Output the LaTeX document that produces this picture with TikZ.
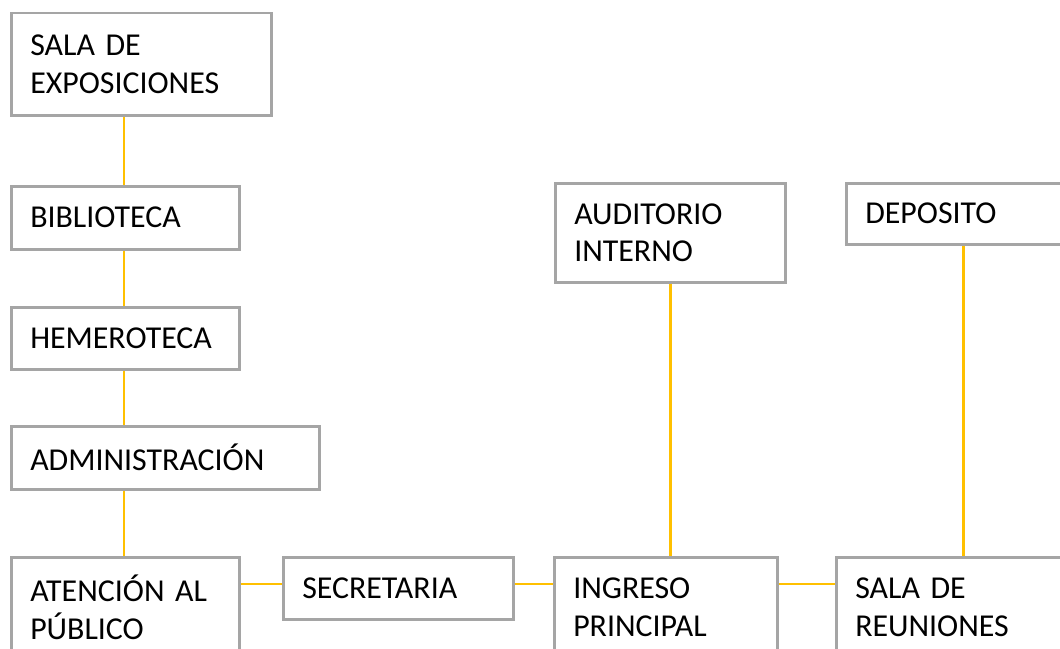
\documentclass[tikz,border=0pt]{standalone}
\usepackage{fontspec}
\setmainfont{Carlito}
\definecolor{boxgray}{HTML}{A5A5A5}
\definecolor{linkorange}{HTML}{FFC000}
\newcommand{\myboxfont}{\fontsize{32}{38}\selectfont\spaceskip=6.5bp\relax}
\begin{document}
\begin{tikzpicture}[x=1bp,y=-1bp,
  box/.style n args={2}{draw=boxgray, line width=2.5bp, fill=white, inner xsep=19bp, inner ysep=0pt,
    align=left, anchor=north west, text width=#1bp-38bp, minimum width=#1bp, minimum height=#2bp,
    font=\myboxfont},
  link/.style={draw=linkorange, line width=2.5bp}]
\useasboundingbox (0,0) rectangle (1060,649);
\clip (0,0) rectangle (1060,649);
\node[box={260}{102}] (expo) at (10,12) {SALA DE\\EXPOSICIONES};
\node[box={228}{63}] (bib) at (10,185) {BIBLIOTECA};
\node[box={228}{62}] (hem) at (10,306) {HEMEROTECA};
\node[box={308}{63}] (adm) at (10,425) {ADMINISTRACIÓN};
\node[box={228}{100}] (at) at (10,556) {ATENCIÓN AL\\PÚBLICO};
\node[box={230}{62}] (sec) at (282,556) {SECRETARIA};
\node[box={223}{100}] (ing) at (553,556) {INGRESO\\PRINCIPAL};
\node[box={254}{100}] (reu) at (835,556) {SALA DE\\REUNIONES};
\node[box={230}{99}] (aud) at (554,182) {AUDITORIO\\INTERNO};
\node[box={234}{61}] (dep) at (845,182) {DEPOSITO};
\coordinate (lx) at (124,0);
\draw[link] (lx |- expo.south) -- (lx |- bib.north);
\draw[link] (lx |- bib.south) -- (lx |- hem.north);
\draw[link] (lx |- hem.south) -- (lx |- adm.north);
\draw[link] (lx |- adm.south) -- (lx |- at.north);
\coordinate (hy) at (0,584);
\draw[link] (at.east |- hy) -- (sec.west |- hy);
\draw[link] (sec.east |- hy) -- (ing.west |- hy);
\draw[link] (ing.east |- hy) -- (reu.west |- hy);
\draw[link] (aud.south) -- (aud.south |- ing.north);
\draw[link] (dep.south) -- (dep.south |- reu.north);
\end{tikzpicture}
\end{document}
